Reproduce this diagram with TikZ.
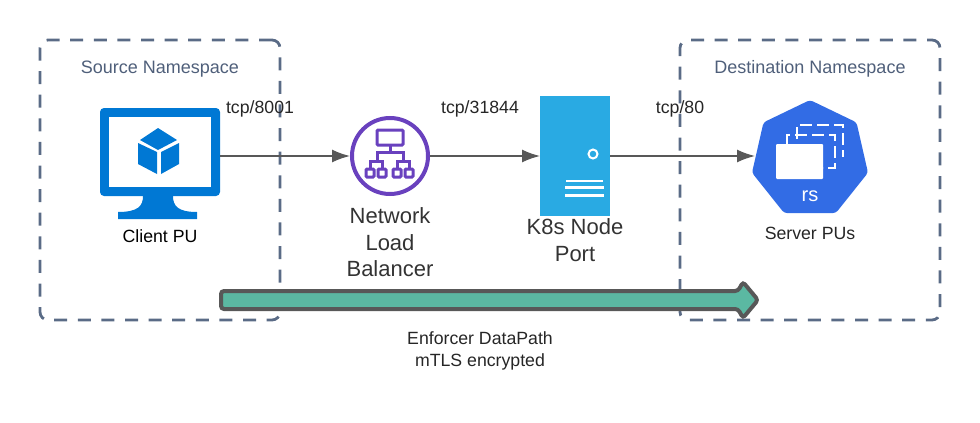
\documentclass[tikz,border=0pt]{standalone}
\usepackage{xcolor}
\usepackage{fontspec}
\setmainfont{Liberation Sans}
\usetikzlibrary{arrows.meta, shapes.geometric, positioning}
\definecolor{azureblue}{RGB}{0,120,212}
\definecolor{awspurple}{RGB}{105,65,190}
\definecolor{serverblue}{RGB}{41,170,227}
\definecolor{k8sblue}{RGB}{50,108,229}
\definecolor{nsgrey}{RGB}{90,107,134}
\definecolor{nstext}{RGB}{79,95,122}
\definecolor{linegrey}{RGB}{88,88,88}
\definecolor{pathgreen}{RGB}{91,184,162}
\tikzset{
  namespace/.style={
      draw=nsgrey,
      rectangle,
      rounded corners=8pt,
      line width=2.8pt,
      dash pattern=on 13pt off 10.6pt,
      inner sep=0pt,
      outer sep=0pt
  },
  monitor/.style={
      fill=azureblue,
      rectangle,
      rounded corners=4pt,
      minimum width=120pt,
      minimum height=88pt,
      inner sep=0pt,
      outer sep=0pt
  },
  balancer/.style={
      draw=awspurple,
      circle,
      line width=4pt,
      minimum size=76pt,
      inner sep=0pt,
      outer sep=2pt
  },
  serverbox/.style={
      fill=serverblue,
      rectangle,
      minimum width=70pt,
      minimum height=120pt,
      inner sep=0pt,
      outer sep=0pt
  },
  heptagon/.style={
      fill=k8sblue,
      regular polygon,
      regular polygon sides=7,
      rounded corners=3pt,
      minimum size=119pt,
      inner sep=0pt,
      outer sep=0pt
  },
  nslabel/.style={font=\fontsize{18}{21}\selectfont, text=nstext},
  portlabel/.style={font=\fontsize{17.7}{21}\selectfont, text=black!85},
  iconlabel/.style={font=\fontsize{17.7}{22}\selectfont},
  biglabel/.style={font=\fontsize{22}{26.6}\selectfont, text=black!80, align=center},
  netbox/.style={draw=awspurple, line width=3pt, rounded corners=1pt},
  netline/.style={draw=awspurple, line width=3pt},
  podback/.style={draw=white, line width=2.6pt, dash pattern=on 12pt off 5pt},
  arrow/.style={-{Latex[length=18pt, width=13pt]}, draw=linegrey, line width=1.6pt}
}
\begin{document}
\begin{tikzpicture}[x=1pt, y=-1pt]
      \useasboundingbox (0,0) rectangle (980,423);

      % Namespaces
      \node (source) [namespace, minimum width=240pt, minimum height=280pt] at (160,180) {};
      \node (dest) [namespace, dash phase=8pt, minimum width=260pt, minimum height=280pt] at (810,180) {};
      \node (sourcelabel) [nslabel] at (160,69) {Source Namespace};
      \node (destlabel) [nslabel] at (810,69) {Destination Namespace};

      % Client
      \node (client) [monitor] at (160,152) {};
      \fill[white] (109,117) rectangle (211,187);
      \fill[azureblue] (143,196) .. controls (143,206) and (138,212) .. (118,212) -- (118,219)
        -- (197,219) -- (197,212) .. controls (178,212) and (173,206) .. (173,196) -- cycle;
      \fill[azureblue] (158,128) -- (177,140) -- (158,150) -- (140,140) -- cycle;
      \fill[azureblue] (138,143) -- (157,152) -- (157,174) -- (138,164) -- cycle;
      \fill[azureblue] (161,152) -- (179,143) -- (179,164) -- (161,174) -- cycle;
      \node (clientlabel) [iconlabel, text=black] at (160,236) {Client PU};

      % Load balancer
      \node (nlb) [balancer] at (390,156) {};
      \draw[netbox] (377,130) rectangle (403,145);
      \draw[netline] (390,145) -- (390,152);
      \draw[netline] (377,161) -- (377,152) -- (403,152) -- (403,161);
      \draw[netline] (370,168) -- (370,161) -- (382,161) -- (382,168);
      \draw[netline] (397,168) -- (397,161) -- (409,161) -- (409,168);
      \foreach \x in {370,382,397,409}
        \draw[netbox] (\x-4,169) rectangle (\x+4,177);
      \node (nlblabel) [biglabel, below=8pt of nlb] {Network\\Load\\Balancer};

      % Node port
      \node (server) [serverbox] at (575,156) {};
      \draw[white, line width=2pt] (593,154) circle (4.5pt);
      \draw[white, line width=2pt] (566,181) -- (603,181);
      \draw[white, line width=3pt] (565,187.5) -- (604,187.5);
      \draw[white, line width=3pt] (565,195) -- (604,195);
      \node (serverlabel) [biglabel, below=-1pt of server] {K8s Node\\Port};

      % Server pods
      \node (k8s) [heptagon] at (810,159.5) {};
      \draw[podback] (797,139) -- (797,125) -- (843,125) -- (843,157);
      \draw[podback] (787,144) -- (787,135) -- (835,135) -- (835,168) -- (823,168);
      \fill[white, rounded corners=1pt] (776,144) rectangle (823,179);
      \node (rs) [font=\fontsize{20}{24}\selectfont, text=white] at (810,196) {rs};
      \node (k8slabel) [iconlabel, text=black!85] at (810,233) {Server PUs};

      % Connections
      \draw[arrow] (client.east |- nlb) -- (nlb);
      \draw[arrow] (nlb) -- (server);
      \draw[arrow] (server) -- (k8s.west |- server);
      \node (port1) [portlabel] at (260,109) {tcp/8001};
      \node (port2) [portlabel] at (480,109) {tcp/31844};
      \node (port3) [portlabel] at (680,109) {tcp/80};

      % Enforcer path
      \draw[draw=linegrey, fill=pathgreen, line width=4pt, rounded corners=3pt]
        (221,291) -- (738,291) -- (743,282) -- (758,300) -- (743,318) -- (738,309) -- (221,309) -- cycle;
      \node (pathlabel) [iconlabel, text=black!85, align=center] at (480,351) {Enforcer DataPath\\mTLS encrypted};
    \end{tikzpicture}
\end{document}
